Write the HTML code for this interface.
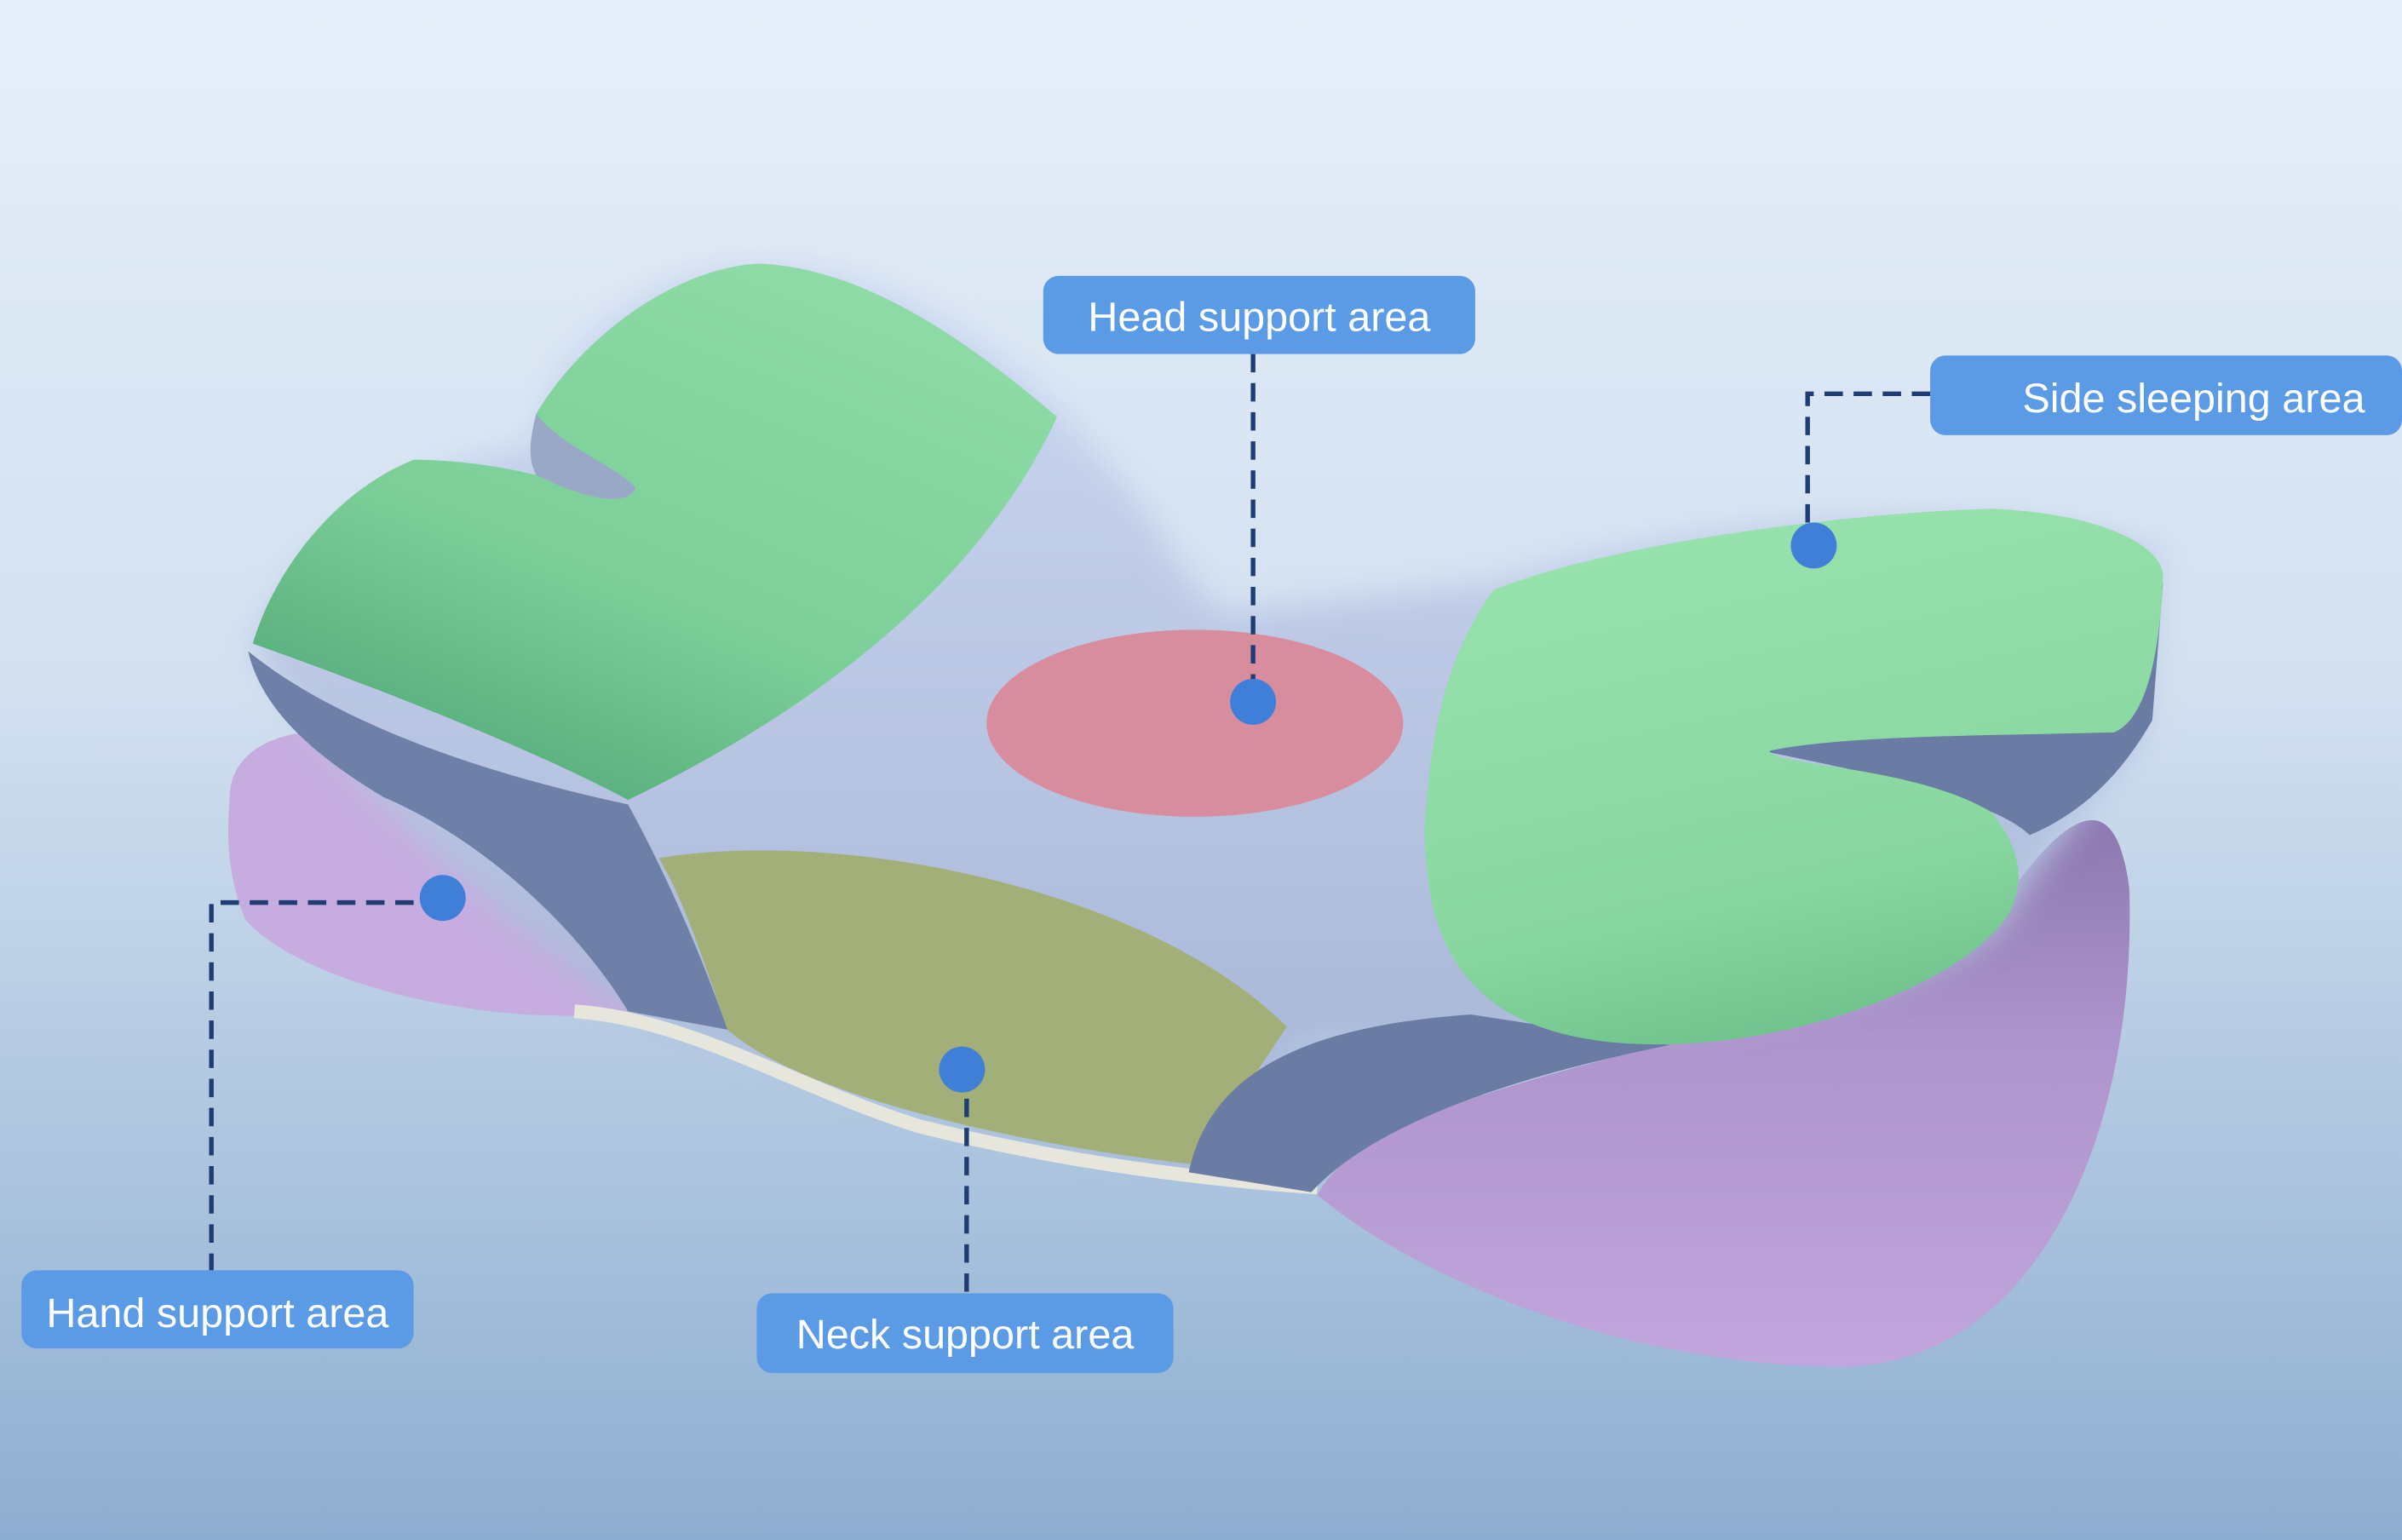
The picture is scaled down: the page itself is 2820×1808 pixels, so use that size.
<!DOCTYPE html>
<html><head><meta charset="utf-8"><style>
html,body{margin:0;padding:0;width:2820px;height:1808px;overflow:hidden}
svg{display:block}
</style></head><body>
<svg width="2820" height="1808" viewBox="0 0 1568 1005" preserveAspectRatio="none" xmlns="http://www.w3.org/2000/svg">
<defs>
<linearGradient id="bg" x1="0" y1="0" x2="0" y2="1">
<stop offset="0" stop-color="#e6eff9"/><stop offset="0.45" stop-color="#d2e0f0"/><stop offset="1" stop-color="#8eaed1"/>
</linearGradient>
<linearGradient id="gl" x1="0.8" y1="0" x2="0.2" y2="1">
<stop offset="0" stop-color="#90dca8"/><stop offset="0.6" stop-color="#7cce98"/><stop offset="1" stop-color="#4fa677"/>
</linearGradient>
<linearGradient id="gr" x1="0.3" y1="0" x2="0.6" y2="1">
<stop offset="0" stop-color="#98e2ad"/><stop offset="0.7" stop-color="#88d6a0"/><stop offset="1" stop-color="#6cbf8a"/>
</linearGradient>
<linearGradient id="top" x1="0" y1="0" x2="0" y2="1">
<stop offset="0" stop-color="#ccd8f0"/><stop offset="1" stop-color="#a6b4d6"/>
</linearGradient>
<linearGradient id="pr" x1="0" y1="0" x2="0" y2="1">
<stop offset="0" stop-color="#8c78b0"/><stop offset="0.4" stop-color="#ae94cc"/><stop offset="1" stop-color="#c0a6dc"/>
</linearGradient>
<filter id="soft" x="-10%" y="-10%" width="120%" height="120%"><feGaussianBlur stdDeviation="10"/></filter>
</defs>
<rect width="1568" height="1005" fill="url(#bg)"/>

<!-- purple right -->
<path d="M860,780 C900,700 1150,690 1300,600 C1340,540 1380,500 1390,580 C1395,740 1330,892 1200,892 C1050,890 920,830 860,780Z" fill="url(#pr)"/>
<!-- purple left -->
<path d="M150,520 C150,470 240,460 300,510 C360,560 400,620 410,660 C330,672 200,645 160,600 C148,570 148,545 150,520Z" fill="#c7ace0"/>

<!-- top surface -->
<path d="M165,425 C200,330 300,300 350,290 C360,220 430,170 500,172 C600,175 680,250 720,300 C760,340 770,380 800,400 L980,380 C1100,340 1300,320 1410,360 L1400,480 C1370,520 1330,560 1310,600 C1250,660 1100,680 850,680 L780,760 C650,740 500,690 410,660 C340,610 230,520 165,425Z" fill="url(#top)" filter="url(#soft)"/>
<!-- left side edge -->
<path d="M162,425 C230,480 340,510 410,525 C440,580 460,630 475,672 L410,660 C380,610 320,550 250,520 C200,490 170,460 162,425Z" fill="#6f80a8"/>
<!-- white rim -->
<path d="M375,660 C450,665 520,710 600,735 C700,760 790,770 860,775" fill="none" stroke="#e6e6dc" stroke-width="9"/>
<!-- olive neck -->
<path d="M430,560 C550,540 750,580 840,670 L780,760 C650,745 520,712 475,672 C460,630 448,590 430,560Z" fill="#a3af78"/>
<!-- dark band right front -->
<path d="M776,765 C790,700 850,670 960,662 L1090,682 C1000,700 900,730 856,778Z" fill="#6b7ca4"/>
<!-- dark edge under right lobe -->
<path d="M1150,490 C1250,475 1380,475 1412,380 L1405,470 C1385,505 1360,530 1325,545 C1300,520 1200,500 1150,490Z" fill="#6b7ca4"/>

<!-- red ellipse -->
<ellipse cx="780" cy="472" rx="136" ry="61" fill="#d78d9e"/>

<!-- left green lobe -->
<path d="M165,420 C180,370 220,320 270,300 C300,300 330,305 350,310 C380,325 410,330 415,318 C395,300 360,290 350,270 C380,220 440,175 495,172 C570,175 640,230 690,272 C650,360 560,450 410,522 C350,490 250,450 165,420Z" fill="url(#gl)"/>
<!-- left notch shadow -->
<path d="M350,270 C345,290 345,300 350,310 C380,325 410,332 415,318 C395,300 365,290 350,270Z" fill="#9aa8c8"/>

<!-- right green lobe -->
<path d="M975,385 C1050,355 1200,335 1300,332 C1370,335 1410,355 1412,375 C1410,430 1400,470 1380,478 C1300,480 1200,480 1155,490 C1160,500 1250,500 1300,530 C1325,560 1322,590 1300,610 C1260,650 1150,690 1050,680 C960,670 930,620 930,540 C935,460 950,420 975,385Z" fill="url(#gr)"/>

<!-- connectors -->
<g stroke="#1f3d73" stroke-width="3" stroke-dasharray="12,7" fill="none">
<path d="M818,231 L818,457"/>
<path d="M1260,257 L1180,257 L1180,356"/>
<path d="M289,589 L138,589 L138,829"/>
<path d="M631,698 L631,844"/>
</g>
<g fill="#3f7fd8">
<ellipse cx="818" cy="458" rx="15" ry="15"/>
<ellipse cx="1184" cy="356" rx="15" ry="15"/>
<ellipse cx="289" cy="586" rx="15" ry="15"/>
<ellipse cx="628" cy="698" rx="15" ry="15"/>
</g>

<!-- labels -->
<g fill="#5b9be6">
<rect x="681" y="180" width="282" height="51" rx="10"/>
<rect x="1260" y="232" width="308" height="52" rx="10"/>
<rect x="14" y="829" width="256" height="51" rx="10"/>
<rect x="494" y="844" width="272" height="52" rx="10"/>
</g>
<g fill="#fff" font-family="Liberation Sans, sans-serif" font-size="27">
<text x="822" y="216" text-anchor="middle">Head support area</text>
<text x="1432" y="269" text-anchor="middle">Side sleeping area</text>
<text x="142" y="866" text-anchor="middle">Hand support area</text>
<text x="630" y="880" text-anchor="middle">Neck support area</text>
</g>
</svg>
</body></html>
